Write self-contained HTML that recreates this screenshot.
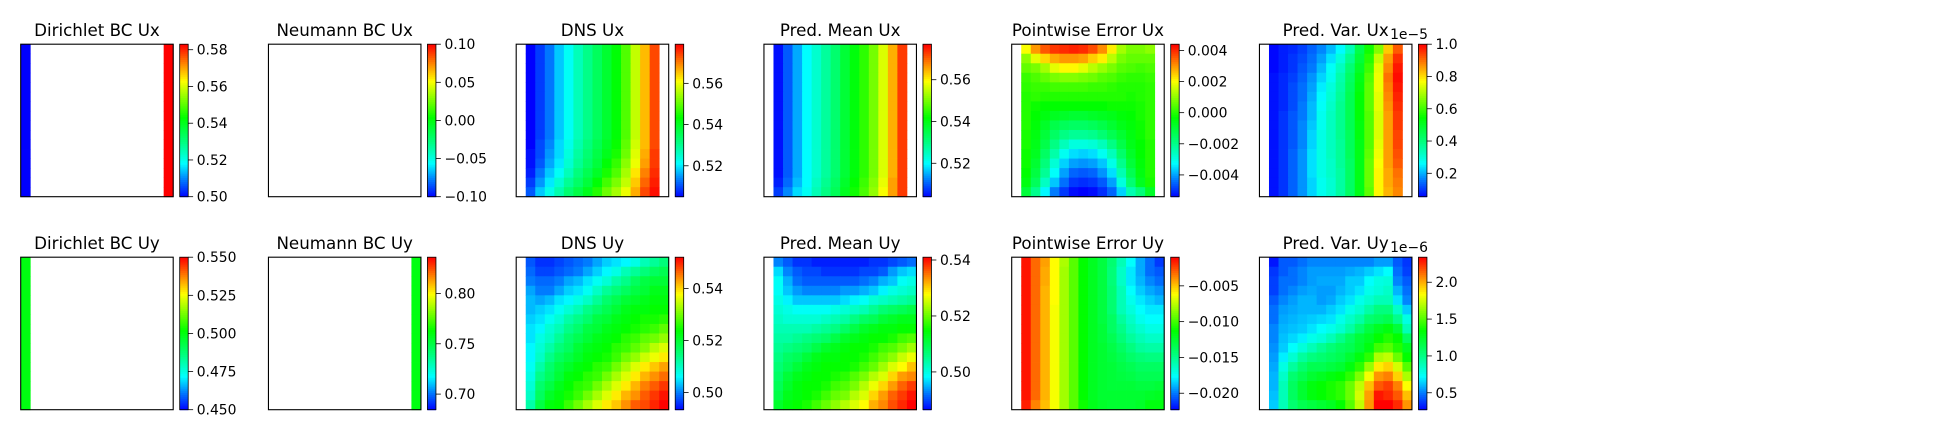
<!DOCTYPE html>
<html><head><meta charset="utf-8"><style>
html,body{margin:0;padding:0;background:#fff;}
svg{display:block;font-family:"DejaVu Sans","Liberation Sans",sans-serif;}
</style></head><body>
<svg id="fig" width="1936" height="440" viewBox="0 0 1936 440" xmlns="http://www.w3.org/2000/svg"></svg>
<script>
// ---- data (rows top->bottom) ----
const dirichletUxRow=[0.50,null,null,null,null,null,null,null,null,null,null,null,null,null,null,0.583];
const dirichletUx=Array(16).fill(dirichletUxRow);
const neumannUx=Array(16).fill(Array(16).fill(null));
const dnsUxRowTop=[null,505,509,513,518,522,527,531,535,539,543,549,557,566,574,null];
const dnsUx=[dnsUxRowTop,dnsUxRowTop,dnsUxRowTop,dnsUxRowTop,dnsUxRowTop,dnsUxRowTop,dnsUxRowTop,dnsUxRowTop,dnsUxRowTop,dnsUxRowTop,
[null,505,510,514,519,523,528,532,536,540,544,550,558,566,574,null],
[null,506,510,515,519,524,529,533,537,541,545,551,559,567,575,null],
[null,506,511,516,520,525,530,534,538,543,547,553,560,568,575,null],
[null,507,513,518,522,527,532,536,540,545,549,555,563,570,576,null],
[null,509,515,520,525,530,534,538,543,548,552,557,565,572,577,null],
[null,511,518,523,528,533,537,541,546,551,555,560,567,574,578,null]];
const predUxRow=[null,505,510,515,520,524,528,532,537,541,545,550,557,565,573,null];
const predUx=[predUxRow,predUxRow,predUxRow,predUxRow,predUxRow,predUxRow,predUxRow,predUxRow,predUxRow,predUxRow,predUxRow,predUxRow,predUxRow,predUxRow,
[null,506,511,516,520,525,529,533,538,542,546,551,558,566,573,null],
[null,508,513,518,521,526,530,534,539,543,547,552,559,566,573,null]];
const errUx=[
[null,2.0,3.0,3.6,3.9,4.0,4.1,4.0,3.7,3.1,2.2,1.2,0.8,0.8,1.0,null],
[null,1.0,1.8,2.4,2.8,3.0,3.0,2.9,2.5,2.2,1.4,0.8,0.6,0.6,0.6,null],
[null,0.6,0.8,1.2,1.8,2.1,2.1,1.8,1.4,1.1,0.8,0.5,0.4,0.3,0.4,null],
[null,0.2,0.4,0.6,0.8,0.9,0.9,0.8,0.7,0.5,0.4,0.2,0.1,0.1,0.2,null],
[null,0.1,0.2,0.2,0.3,0.3,0.3,0.3,0.2,0.2,0.1,0.0,0.0,0.0,0.1,null],
[null,0.0,0.1,0.0,0.0,0.0,0.0,0.0,0.0,0.0,0.0,0.0,-0.1,0.0,0.1,null],
[null,0.0,-0.2,-0.3,-0.3,-0.3,-0.3,-0.3,-0.3,-0.3,-0.2,-0.2,-0.2,-0.1,0.1,null],
[null,0.0,-0.3,-0.5,-0.7,-0.8,-0.9,-0.9,-0.8,-0.7,-0.6,-0.4,-0.3,-0.1,0.1,null],
[null,0.0,-0.4,-0.8,-1.2,-1.4,-1.5,-1.5,-1.4,-1.2,-0.9,-0.6,-0.4,-0.2,0.1,null],
[null,-0.1,-0.5,-1.0,-1.5,-1.9,-2.1,-2.1,-2.0,-1.7,-1.3,-0.9,-0.5,-0.2,0.1,null],
[null,-0.1,-0.6,-1.2,-1.9,-2.5,-2.9,-2.9,-2.8,-2.5,-1.9,-1.2,-0.6,-0.3,0.0,null],
[null,-0.2,-0.7,-1.5,-2.3,-3.1,-3.5,-3.6,-3.5,-3.1,-2.5,-1.6,-0.8,-0.3,0.0,null],
[null,-0.2,-0.9,-1.8,-2.8,-3.6,-4.0,-4.1,-4.0,-3.7,-3.0,-2.0,-1.0,-0.4,0.0,null],
[null,-0.3,-1.1,-2.1,-3.2,-4.0,-4.5,-4.6,-4.5,-4.1,-3.5,-2.4,-1.3,-0.5,0.0,null],
[null,-0.5,-1.4,-2.6,-3.7,-4.4,-4.9,-5.0,-4.9,-4.6,-4.0,-2.9,-1.7,-0.7,-0.1,null],
[null,-1.0,-2.0,-3.3,-4.3,-4.9,-5.3,-5.4,-5.3,-5.0,-4.5,-3.6,-2.4,-1.8,-0.8,null]];
const varUx=[
[null,.06,.08,.09,.11,.14,.17,.21,.26,.34,.46,.56,.66,.82,.92,null],
[null,.06,.08,.10,.12,.15,.19,.24,.30,.38,.48,.58,.72,.86,.96,null],
[null,.06,.08,.10,.13,.16,.21,.27,.33,.41,.50,.60,.75,.88,.98,null],
[null,.07,.09,.11,.14,.18,.23,.28,.35,.43,.52,.62,.76,.90,.99,null],
[null,.07,.09,.12,.15,.19,.25,.30,.36,.44,.53,.63,.76,.89,.98,null],
[null,.07,.09,.12,.15,.20,.26,.31,.37,.45,.54,.63,.75,.88,.97,null],
[null,.07,.09,.12,.16,.21,.27,.32,.38,.45,.54,.63,.75,.87,.96,null],
[null,.07,.10,.13,.16,.21,.28,.33,.38,.45,.54,.62,.74,.86,.95,null],
[null,.07,.10,.13,.17,.22,.28,.33,.38,.45,.53,.62,.74,.86,.95,null],
[null,.07,.10,.13,.17,.23,.29,.33,.38,.44,.53,.62,.74,.86,.94,null],
[null,.07,.10,.13,.17,.23,.29,.33,.37,.44,.52,.62,.75,.86,.94,null],
[null,.07,.10,.14,.18,.24,.29,.33,.37,.44,.52,.63,.76,.86,.93,null],
[null,.07,.10,.14,.18,.24,.29,.32,.37,.43,.52,.64,.77,.86,.92,null],
[null,.07,.10,.14,.18,.24,.29,.32,.36,.43,.52,.64,.78,.85,.90,null],
[null,.07,.10,.14,.18,.23,.28,.31,.36,.43,.52,.64,.78,.85,.89,null],
[null,.07,.10,.14,.18,.23,.28,.31,.36,.43,.52,.63,.78,.84,.88,null]];
const dirichletUyRow=[0.50,null,null,null,null,null,null,null,null,null,null,null,null,null,null,null];
const dirichletUy=Array(16).fill(dirichletUyRow);
const neumannUyRow=[null,null,null,null,null,null,null,null,null,null,null,null,null,null,null,0.76];
const neumannUy=Array(16).fill(neumannUyRow);
const dnsUy=[
[null,498,496,496,497,498,499,500,502,504,505,506,508,511,513,515],
[null,499,497,497,498,499,500,502,504,506,508,511,513,515,517,518],
[null,500,499,499,500,502,503,505,507,509,512,514,517,519,520,520],
[null,502,500,500,502,504,505,507,510,513,515,517,519,520,522,522],
[null,503,502,503,505,506,508,510,513,516,518,520,521,522,523,523],
[null,503,504,505,507,509,511,514,516,518,520,522,523,523,524,524],
[null,504,505,507,509,512,514,516,519,520,522,523,524,525,525,526],
[null,505,506,509,511,514,516,519,520,522,523,524,525,526,527,529],
[null,505,508,510,513,516,518,520,522,523,524,526,527,529,530,532],
[null,506,509,512,515,517,520,522,523,524,526,527,529,531,534,536],
[null,506,510,514,517,519,521,523,524,525,527,530,532,535,537,539],
[null,507,512,516,519,521,523,524,526,527,530,533,536,539,541,543],
[null,508,514,517,520,523,524,526,527,530,533,536,539,542,544,546],
[null,509,516,519,522,524,526,527,530,533,536,539,542,545,547,549],
[null,510,517,521,523,525,527,530,533,536,539,542,544,547,549,551],
[null,512,519,523,524,527,530,533,536,539,541,544,547,548,550,552]];
const predUy=[
[null,493,491,489,489,488,488,488,488,488,488,489,489,490,491,492],
[null,497,493,491,490,490,489,489,489,489,490,490,491,494,496,497],
[null,499,495,492,491,491,491,491,491,491,492,493,495,496,499,500],
[null,499,496,494,493,493,493,493,494,494,495,496,498,500,501,502],
[null,500,498,496,496,496,496,496,497,498,499,501,502,503,504,505],
[null,501,500,499,499,499,499,500,501,502,503,505,507,508,509,510],
[null,502,501,501,501,501,502,503,504,506,508,509,511,512,513,513],
[null,503,503,503,503,504,505,506,508,510,512,513,514,514,515,515],
[null,504,504,505,506,507,508,510,512,513,514,515,515,516,518,519],
[null,505,506,507,508,510,512,513,514,515,515,516,518,519,521,523],
[null,506,508,509,511,513,514,514,515,515,516,518,520,522,525,527],
[null,507,509,511,513,514,515,515,515,516,518,520,523,526,528,531],
[null,508,511,513,514,515,515,516,517,519,521,524,526,530,533,534],
[null,509,512,514,515,515,516,518,519,521,524,527,530,533,536,538],
[null,510,513,514,515,516,518,520,521,524,526,530,533,536,538,540],
[null,512,514,515,516,518,520,522,524,526,528,532,534,537,539,541]];
const errUy=[
[null,-1.4,-3.1,-4.2,-6.1,-7.8,-9.5,-11.2,-12.1,-12.9,-14.2,-15.9,-17.6,-19.1,-20.2,-21.2],
[null,-1.4,-3.1,-4.4,-6.1,-8.0,-9.5,-11.2,-12.1,-12.9,-14.4,-16.3,-18.0,-19.1,-20.2,-20.6],
[null,-1.4,-3.1,-4.4,-6.1,-8.0,-9.5,-11.2,-12.1,-12.9,-14.4,-16.3,-18.0,-18.9,-19.7,-20.2],
[null,-1.4,-3.1,-4.6,-6.1,-8.0,-9.5,-11.2,-12.1,-12.9,-14.2,-15.9,-17.6,-18.5,-19.1,-19.5],
[null,-1.4,-3.1,-4.6,-6.1,-8.0,-9.5,-11.2,-12.1,-12.9,-14.2,-15.9,-17.2,-18.0,-18.5,-18.9],
[null,-1.4,-3.1,-4.6,-6.3,-8.0,-9.5,-11.2,-12.1,-12.9,-14.2,-15.9,-16.8,-17.6,-18.0,-18.0],
[null,-1.4,-3.1,-4.6,-6.3,-8.0,-9.5,-11.2,-12.1,-12.9,-13.8,-15.3,-16.3,-17.2,-17.6,-17.6],
[null,-1.4,-3.1,-4.6,-6.3,-8.0,-9.5,-11.2,-12.1,-12.7,-13.8,-14.8,-15.9,-16.5,-17.0,-17.0],
[null,-1.4,-3.1,-4.6,-6.3,-8.0,-9.5,-11.2,-12.1,-12.7,-13.4,-14.4,-15.3,-15.9,-16.3,-16.3],
[null,-1.4,-3.1,-4.6,-6.3,-8.0,-9.5,-11.2,-12.1,-12.5,-13.1,-13.8,-14.6,-15.3,-15.5,-15.5],
[null,-1.4,-3.1,-4.6,-6.3,-8.0,-9.5,-11.2,-12.1,-12.5,-12.9,-13.4,-14.0,-14.4,-14.6,-14.6],
[null,-1.4,-3.1,-4.6,-6.3,-8.0,-9.5,-11.2,-12.1,-12.5,-12.7,-13.1,-13.4,-13.8,-13.8,-13.8],
[null,-1.4,-3.1,-4.6,-6.3,-8.0,-9.5,-11.2,-12.1,-12.5,-12.7,-12.9,-13.1,-13.4,-13.4,-13.4],
[null,-1.4,-3.1,-4.6,-6.3,-8.0,-9.5,-11.2,-12.1,-12.5,-12.7,-12.7,-12.7,-12.9,-12.9,-12.7],
[null,-1.4,-3.1,-4.6,-6.3,-8.0,-9.5,-11.2,-12.1,-12.5,-12.5,-12.5,-12.5,-12.5,-12.3,-12.1],
[null,-1.6,-3.6,-4.8,-6.3,-8.0,-9.5,-11.0,-11.9,-12.3,-12.5,-12.5,-12.5,-12.3,-11.6,-11.6]];
const varUy=[
[null,.31,.44,.44,.48,.52,.52,.52,.52,.52,.52,.52,.56,.56,.44,.37],
[null,.37,.44,.48,.52,.56,.56,.56,.56,.58,.60,.64,.68,.73,.48,.39],
[null,.39,.48,.48,.52,.56,.58,.58,.58,.64,.64,.73,.79,.81,.52,.44],
[null,.39,.48,.52,.56,.58,.56,.56,.60,.64,.68,.77,.81,.85,.60,.48],
[null,.44,.52,.56,.60,.60,.56,.58,.64,.68,.77,.83,.89,.89,.68,.52],
[null,.48,.56,.58,.60,.60,.60,.64,.68,.77,.83,.93,1.02,1.02,.85,.64],
[null,.48,.58,.60,.62,.64,.66,.68,.77,.85,.93,1.06,1.10,1.14,.99,.79],
[null,.52,.60,.62,.64,.68,.73,.77,.83,.93,1.06,1.18,1.26,1.31,1.20,.89],
[null,.52,.62,.66,.70,.77,.81,.89,.99,1.10,1.20,1.26,1.35,1.41,1.35,1.10],
[null,.54,.64,.73,.81,.89,.97,1.04,1.10,1.14,1.22,1.31,1.47,1.51,1.41,1.26],
[null,.56,.70,.83,.95,1.02,1.06,1.10,1.14,1.22,1.31,1.43,1.68,1.72,1.55,1.35],
[null,.58,.79,.95,1.06,1.14,1.14,1.18,1.22,1.31,1.43,1.64,1.88,1.93,1.76,1.51],
[null,.60,.85,1.06,1.14,1.22,1.26,1.31,1.35,1.43,1.59,1.82,2.05,2.09,1.93,1.68],
[null,.60,.89,1.10,1.22,1.31,1.35,1.39,1.43,1.55,1.72,1.97,2.17,2.22,2.09,1.84],
[null,.62,.89,1.10,1.22,1.31,1.35,1.39,1.43,1.55,1.76,2.03,2.30,2.26,2.17,1.97],
[null,.64,.89,1.06,1.14,1.18,1.22,1.26,1.35,1.51,1.72,2.05,2.34,2.34,2.26,2.05]];

// colorbar tick labels
const ticksDirUx=[0.50,0.52,0.54,0.56,0.58];
const ticksNeuUx=[-0.10,-0.05,0.00,0.05,0.10];
const ticksDnsUx=[0.52,0.54,0.56];
const ticksPredUx=[0.52,0.54,0.56];
const ticksErrUx=[-0.004,-0.002,0.000,0.002,0.004];
const ticksVarUx=[0.2,0.4,0.6,0.8,1.0];
const ticksDirUy=[0.450,0.475,0.500,0.525,0.550];
const ticksNeuUy=[0.70,0.75,0.80];
const ticksDnsUy=[0.50,0.52,0.54];
const ticksPredUy=[0.50,0.52,0.54];
const ticksErrUy=[-0.020,-0.015,-0.010,-0.005];
const ticksVarUy=[0.5,1.0,1.5,2.0];

const panels=[
 {name:'dirichlet-bc-ux',title:'Dirichlet BC Ux',data:dirichletUx,scale:1,vmin:0.50,vmax:0.583,ticks:ticksDirUx,dec:2,off:'',row:0,col:0},
 {name:'neumann-bc-ux',title:'Neumann BC Ux',data:neumannUx,scale:1,vmin:-0.10,vmax:0.10,ticks:ticksNeuUx,dec:2,off:'',row:0,col:1},
 {name:'dns-ux',title:'DNS Ux',data:dnsUx,scale:1e-3,vmin:0.505,vmax:0.579,ticks:ticksDnsUx,dec:2,off:'',row:0,col:2},
 {name:'pred-mean-ux',title:'Pred. Mean Ux',data:predUx,scale:1e-3,vmin:0.504,vmax:0.577,ticks:ticksPredUx,dec:2,off:'',row:0,col:3},
 {name:'pointwise-error-ux',title:'Pointwise Error Ux',data:errUx,scale:1e-3,vmin:-0.0054,vmax:0.0044,ticks:ticksErrUx,dec:3,off:'',row:0,col:4},
 {name:'pred-var-ux',title:'Pred. Var. Ux',data:varUx,scale:1,vmin:0.055,vmax:1.0,ticks:ticksVarUx,dec:1,off:'1e\u22125',row:0,col:5},
 {name:'dirichlet-bc-uy',title:'Dirichlet BC Uy',data:dirichletUy,scale:1,vmin:0.45,vmax:0.55,ticks:ticksDirUy,dec:3,off:'',row:1,col:0},
 {name:'neumann-bc-uy',title:'Neumann BC Uy',data:neumannUy,scale:1,vmin:0.6845,vmax:0.836,ticks:ticksNeuUy,dec:2,off:'',row:1,col:1},
 {name:'dns-uy',title:'DNS Uy',data:dnsUy,scale:1e-3,vmin:0.4934,vmax:0.552,ticks:ticksDnsUy,dec:2,off:'',row:1,col:2},
 {name:'pred-mean-uy',title:'Pred. Mean Uy',data:predUy,scale:1e-3,vmin:0.4865,vmax:0.541,ticks:ticksPredUy,dec:2,off:'',row:1,col:3},
 {name:'pointwise-error-uy',title:'Pointwise Error Uy',data:errUy,scale:1e-3,vmin:-0.0223,vmax:-0.0010,ticks:ticksErrUy,dec:3,off:'',row:1,col:4},
 {name:'pred-var-uy',title:'Pred. Var. Uy',data:varUy,scale:1,vmin:0.27,vmax:2.34,ticks:ticksVarUy,dec:1,off:'1e\u22126',row:1,col:5}
];

const NS='http://www.w3.org/2000/svg';
const svg=document.getElementById('fig');
const stops=[[0,[0,0,255]],[0.11,[0,120,255]],[0.22,[0,255,255]],[0.36,[0,255,128]],[0.52,[0,255,0]],[0.76,[255,255,0]],[1,[255,0,0]]];
function cmap(t){
  t=Math.max(0,Math.min(1,t));
  for(let i=1;i<stops.length;i++){
    if(t<=stops[i][0]){
      const a=stops[i-1],b=stops[i];const f=(t-a[0])/(b[0]-a[0]);
      const c=a[1].map((v,k)=>Math.round(v+(b[1][k]-v)*f));
      return 'rgb('+c.join(',')+')';
    }
  }
  return 'rgb(255,0,0)';
}
function el(tag,attrs,parent){const e=document.createElementNS(NS,tag);for(const k in attrs)e.setAttribute(k,attrs[k]);(parent||svg).appendChild(e);return e;}
function fmt(v,d){const s=Math.abs(v).toFixed(d);return (v<-1e-12?'\u2212':'')+s;}

const AX_W=152.5,AX_H=152.5,LEFT0=20.7,PITCH=247.75,TOPS=[44.2,257.2],CB_OFF=159,CB_W=8.5;
panels.forEach(p=>{
  const x0=LEFT0+p.col*PITCH,y0=TOPS[p.row];
  const g=el('g',{});
  
  
  const rows=p.data.length,cols=p.data[0].length;
  const cw=AX_W/cols,ch=AX_H/rows;
  const xs=c=>x0+c*cw, ys=r=>y0+r*ch;
  const norm=v=>(v*p.scale-p.vmin)/(p.vmax-p.vmin);
  const hm=el('g',{},g);
  
  
  p.data.forEach((row,r)=>row.forEach((v,c)=>{
    if(v===null)return;
    const cell=el('rect',{x:xs(c).toFixed(2),y:ys(r).toFixed(2),width:(cw+0.4).toFixed(2),height:(ch+0.4).toFixed(2),fill:cmap(norm(v))},hm);
    
    
  }));
  const fr=el('rect',{x:x0,y:y0,width:AX_W,height:AX_H,fill:'none',stroke:'#000','stroke-width':1.1},g);
  
  
  const t=el('text',{x:x0+AX_W/2,y:y0-8,'text-anchor':'middle','font-size':'16.7px',fill:'#000'},g);
  t.textContent=p.title;
  
  
  const cx=x0+CB_OFF;
  const cb=el('g',{},g);
  
  
  const N=80;
  for(let i=0;i<N;i++){
    el('rect',{x:cx,y:(y0+AX_H-(i+1)*AX_H/N).toFixed(2),width:CB_W,height:(AX_H/N+0.5).toFixed(2),fill:cmap((i+0.5)/N)},cb);
  }
  el('rect',{x:cx,y:y0,width:CB_W,height:AX_H,fill:'none',stroke:'#000','stroke-width':0.8},cb);
  const cy=v=>y0+AX_H-(v-p.vmin)/(p.vmax-p.vmin)*AX_H;
  p.ticks.forEach(v=>{
    const yy=cy(v);
    el('line',{x1:cx+CB_W,x2:cx+CB_W+4.9,y1:yy,y2:yy,stroke:'#000','stroke-width':0.8},cb);
    const lb=el('text',{x:cx+CB_W+8.5,y:yy+5,'font-size':'13.9px',fill:'#000'},cb);
    lb.textContent=fmt(v,p.dec);
    
    
  });
  if(p.off){
    const o=el('text',{x:cx+CB_W+1,y:y0-5,'text-anchor':'end','font-size':'13.9px',fill:'#000'},cb);
    o.textContent=p.off;
    
    
  }
});
</script>
</body></html>
